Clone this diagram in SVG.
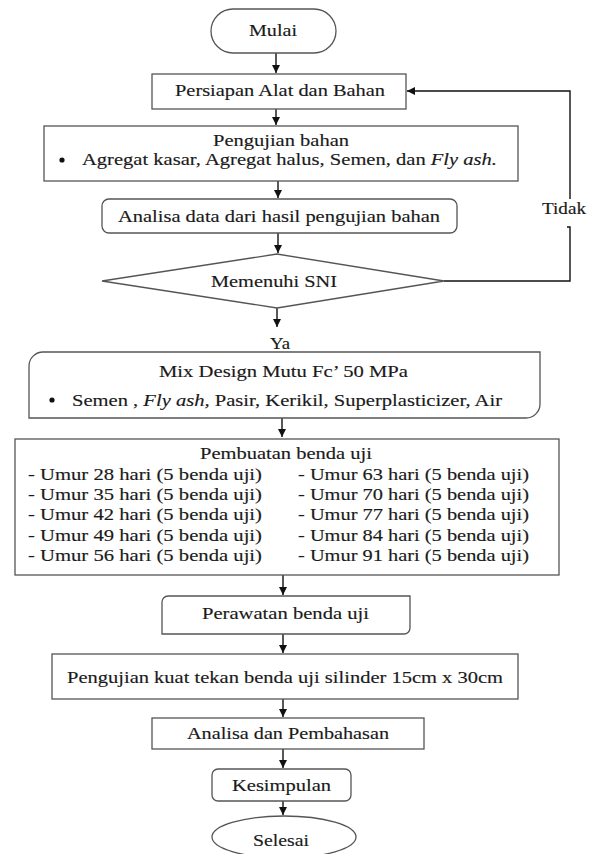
<svg xmlns="http://www.w3.org/2000/svg" width="597" height="854" viewBox="0 0 597 854">
<style>
.box{fill:#fff;stroke:#555;stroke-width:1.3}
.t{font-family:"Liberation Serif","Times New Roman",serif;font-size:17px;fill:#1a1a1a;stroke:#1a1a1a;stroke-width:0.15}
.i{font-style:italic}
.c{fill:none;stroke:#111;stroke-width:1.4}
</style>
<defs>
<marker id="ah" viewBox="0 0 10 10" refX="10" refY="5" markerWidth="8" markerHeight="8" markerUnits="userSpaceOnUse" orient="auto">
<path d="M0,0 L10,5 L0,10 z" fill="#111"/>
</marker>
</defs>
<rect width="597" height="854" fill="#fff"/>
<g id="connectors">
<path class="c" d="M276,53 V73" marker-end="url(#ah)"/>
<path class="c" d="M276,109 V125" marker-end="url(#ah)"/>
<path class="c" d="M278,181 V198" marker-end="url(#ah)"/>
<path class="c" d="M278,233 V253" marker-end="url(#ah)"/>
<path class="c" d="M277,308 V327" marker-end="url(#ah)"/>
<path class="c" d="M282,418 V437" marker-end="url(#ah)"/>
<path class="c" d="M283,575 V595" marker-end="url(#ah)"/>
<path class="c" d="M283,634 V653" marker-end="url(#ah)"/>
<path class="c" d="M283,699 V717" marker-end="url(#ah)"/>
<path class="c" d="M283,749 V768" marker-end="url(#ah)"/>
<path class="c" d="M283,801 V815" marker-end="url(#ah)"/>
<path class="c" d="M444,281 H570 V227 H567"/>
<path class="c" d="M570,199 V91 H407" marker-end="url(#ah)"/>
<text class="t" x="542" y="214" textLength="44" lengthAdjust="spacingAndGlyphs">Tidak</text>
<text class="t" x="270" y="349" textLength="20" lengthAdjust="spacingAndGlyphs">Ya</text>
</g>
<g id="mulai">
<rect class="box" x="211" y="9" width="125" height="44" rx="22"/>
<text class="t" x="249" y="36" textLength="48" lengthAdjust="spacingAndGlyphs">Mulai</text>
</g>
<g id="persiapan">
<rect class="box" x="152" y="74" width="254" height="35"/>
<text class="t" x="175" y="96" textLength="210" lengthAdjust="spacingAndGlyphs">Persiapan Alat dan Bahan</text>
</g>
<g id="pengujian-bahan">
<rect class="box" x="44" y="126" width="474" height="55"/>
<text class="t" x="213" y="146" textLength="136" lengthAdjust="spacingAndGlyphs">Pengujian bahan</text>
<circle cx="62" cy="160" r="2.6" fill="#111"/>
<text class="t" x="82" y="165" textLength="415" lengthAdjust="spacingAndGlyphs">Agregat kasar, Agregat halus, Semen, dan <tspan class="i">Fly ash.</tspan></text>
</g>
<g id="analisa-data">
<rect class="box" x="102" y="199" width="355" height="34" rx="7"/>
<text class="t" x="118" y="222" textLength="322" lengthAdjust="spacingAndGlyphs">Analisa data dari hasil pengujian bahan</text>
</g>
<g id="memenuhi-sni">
<polygon class="box" points="102,281 277,254 444,281 277,308"/>
<text class="t" x="211" y="287" textLength="126" lengthAdjust="spacingAndGlyphs">Memenuhi SNI</text>
</g>
<g id="mix-design">
<path class="box" d="M43,352 H540 V404 A14,14 0 0 1 526,418 H29 V366 A14,14 0 0 1 43,352 Z"/>
<text class="t" x="159" y="377" textLength="249" lengthAdjust="spacingAndGlyphs">Mix Design Mutu Fc’ 50 MPa</text>
<circle cx="52" cy="400" r="2.6" fill="#111"/>
<text class="t" x="72" y="406" textLength="430" lengthAdjust="spacingAndGlyphs">Semen , <tspan class="i">Fly ash,</tspan> Pasir, Kerikil, Superplasticizer, Air</text>
</g>
<g id="pembuatan">
<rect class="box" x="15" y="439" width="544" height="136"/>
<text class="t" x="200" y="459" textLength="172" lengthAdjust="spacingAndGlyphs">Pembuatan benda uji</text>
<text class="t" x="28" y="480" textLength="234" lengthAdjust="spacingAndGlyphs">- Umur 28 hari (5 benda uji)</text>
<text class="t" x="28" y="500" textLength="234" lengthAdjust="spacingAndGlyphs">- Umur 35 hari (5 benda uji)</text>
<text class="t" x="28" y="520" textLength="234" lengthAdjust="spacingAndGlyphs">- Umur 42 hari (5 benda uji)</text>
<text class="t" x="28" y="541" textLength="234" lengthAdjust="spacingAndGlyphs">- Umur 49 hari (5 benda uji)</text>
<text class="t" x="28" y="561" textLength="234" lengthAdjust="spacingAndGlyphs">- Umur 56 hari (5 benda uji)</text>
<text class="t" x="298" y="480" textLength="231" lengthAdjust="spacingAndGlyphs">- Umur 63 hari (5 benda uji)</text>
<text class="t" x="298" y="500" textLength="231" lengthAdjust="spacingAndGlyphs">- Umur 70 hari (5 benda uji)</text>
<text class="t" x="298" y="520" textLength="231" lengthAdjust="spacingAndGlyphs">- Umur 77 hari (5 benda uji)</text>
<text class="t" x="298" y="541" textLength="231" lengthAdjust="spacingAndGlyphs">- Umur 84 hari (5 benda uji)</text>
<text class="t" x="298" y="561" textLength="231" lengthAdjust="spacingAndGlyphs">- Umur 91 hari (5 benda uji)</text>
</g>
<g id="perawatan">
<path class="box" d="M168,596 H410 V628 A6,6 0 0 1 404,634 H162 V602 A6,6 0 0 1 168,596 Z"/>
<text class="t" x="202" y="619" textLength="167" lengthAdjust="spacingAndGlyphs">Perawatan benda uji</text>
</g>
<g id="pengujian-kuat">
<rect class="box" x="52" y="654" width="466" height="45"/>
<text class="t" x="67" y="683" textLength="436" lengthAdjust="spacingAndGlyphs">Pengujian kuat tekan benda uji silinder 15cm x 30cm</text>
</g>
<g id="analisa-pembahasan">
<rect class="box" x="152" y="718" width="272" height="31"/>
<text class="t" x="187" y="739" textLength="202" lengthAdjust="spacingAndGlyphs">Analisa dan Pembahasan</text>
</g>
<g id="kesimpulan">
<rect class="box" x="212" y="769" width="139" height="32" rx="6"/>
<text class="t" x="232" y="791" textLength="99" lengthAdjust="spacingAndGlyphs">Kesimpulan</text>
</g>
<g id="selesai">
<ellipse class="box" cx="284" cy="837" rx="72" ry="21"/>
<text class="t" x="253" y="846" textLength="56" lengthAdjust="spacingAndGlyphs">Selesai</text>
</g>
</svg>
